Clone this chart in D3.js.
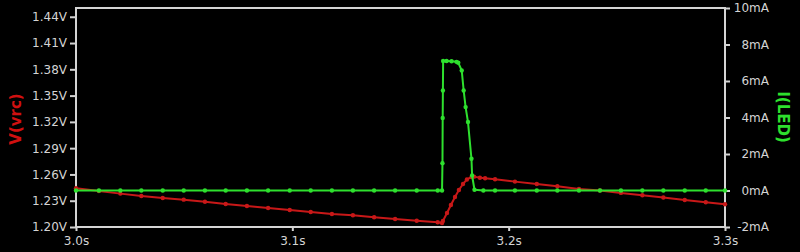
<!DOCTYPE html>
<html>
<head>
<meta charset="utf-8">
<script src="https://cdn.jsdelivr.net/npm/d3@7"></script>
<style>
  html, body { margin: 0; padding: 0; background: #000; }
  svg { display: block; }
</style>
</head>
<body>
<div id="chart"></div>
<script>
// V(vrc) trace, time in s, value in V
const timeV = [3.0000, 3.0106, 3.0205, 3.0302, 3.0401, 3.0498, 3.0596, 3.0692, 3.0790, 3.0888,
  3.0988, 3.1085, 3.1183, 3.1280, 3.1378, 3.1475, 3.1575, 3.1672, 3.1692,
  3.1696, 3.1715, 3.1733, 3.1752, 3.1770, 3.1789, 3.1807, 3.1829, 3.1840,
  3.1867, 3.1891, 3.1937, 3.2029, 3.2130, 3.2225, 3.2325, 3.2422, 3.2519, 3.2618,
  3.2715, 3.2814, 3.2911, 3.3000];
const vrc = [1.2442, 1.2411, 1.2381, 1.2354, 1.2331, 1.2312, 1.2289, 1.2263, 1.2240, 1.2217,
  1.2194, 1.2171, 1.2149, 1.2134, 1.2111, 1.2091, 1.2072, 1.2054, 1.2046,
  1.2069, 1.2160, 1.2251, 1.2343, 1.2423, 1.2491, 1.2543, 1.2571, 1.2575,
  1.2563, 1.2557, 1.2545, 1.2518, 1.2491, 1.2465, 1.2434, 1.2417, 1.2389, 1.2362,
  1.2336, 1.2309, 1.2282, 1.2259];

// I(LED) trace, time in s, value in mA
const timeI = [3.0000, 3.0106, 3.0205, 3.0302, 3.0401, 3.0498, 3.0596, 3.0692, 3.0790, 3.0888,
  3.0988, 3.1085, 3.1183, 3.1280, 3.1378, 3.1475, 3.1575, 3.1672, 3.1692,
  3.1694, 3.1695, 3.1696, 3.1697, 3.1713, 3.1736, 3.1759, 3.1767, 3.1783, 3.1792,
  3.1801, 3.1812, 3.1828, 3.1831, 3.1842,
  3.1883, 3.1937, 3.2029, 3.2130, 3.2225, 3.2325, 3.2422, 3.2519, 3.2618,
  3.2715, 3.2814, 3.2911, 3.3000];
const iLed = [0, 0, 0, 0, 0, 0, 0, 0, 0, 0,
  0, 0, 0, 0, 0, 0, 0, 0, 0,
  1.5, 3.97, 5.48, 7.10, 7.10, 7.08, 7.05, 7.00, 6.58, 5.48,
  4.57, 3.75, 1.74, 0.82, 0.04,
  0, 0, 0, 0, 0, 0, 0, 0, 0,
  0, 0, 0, 0];

const vTicks = [1.20, 1.23, 1.26, 1.29, 1.32, 1.35, 1.38, 1.41, 1.44];
const iTicks = [-2, 0, 2, 4, 6, 8, 10];
const tTicks = [3.0, 3.1, 3.2, 3.3];

const width = 800, height = 252;
const plotLeft = 76, plotRight = 725, plotTop = 8, plotBottom = 227;
const frameColor = "#d4d4d4";
const redColor = "#c81818";
const greenColor = "#2ee02e";

const svg = d3.select("#chart")
  .append("svg")
  .attr("width", width)
  .attr("height", height);

svg.append("rect")
  .attr("width", width)
  .attr("height", height)
  .attr("fill", "#000");

const x = d3.scaleLinear().domain([3.0, 3.3]).range([plotLeft, plotRight]);
const yV = d3.scaleLinear().domain([1.20, 1.45]).range([plotBottom, plotTop]);
const yI = d3.scaleLinear().domain([-2, 10]).range([plotBottom, plotTop]);

// axes
const leftAxis = svg.append("g")
  .attr("transform", "translate(" + plotLeft + ",0)")
  .call(d3.axisLeft(yV).tickValues(vTicks).tickFormat(d => d.toFixed(2) + "V")
    .tickSize(6).tickPadding(3).tickSizeOuter(0));

const rightAxis = svg.append("g")
  .attr("transform", "translate(" + plotRight + ",0)")
  .call(d3.axisRight(yI).tickValues(iTicks).tickFormat(d => d + "mA")
    .tickSize(5).tickPadding(3).tickSizeOuter(0));
rightAxis.selectAll("text")
  .attr("x", 44)
  .attr("text-anchor", "end");

const bottomAxis = svg.append("g")
  .attr("transform", "translate(0," + plotBottom + ")")
  .call(d3.axisBottom(x).tickValues(tTicks).tickFormat(d => d.toFixed(1) + "s")
    .tickSize(4).tickPadding(5).tickSizeOuter(0));

[leftAxis, rightAxis, bottomAxis].forEach(a => {
  a.select(".domain").remove();
  a.selectAll("line").attr("stroke", frameColor).attr("stroke-width", 2);
  a.selectAll("text")
    .attr("fill", frameColor)
    .style("font-family", "DejaVu Sans")
    .style("font-size", "12px");
});

// frame
svg.append("rect")
  .attr("x", plotLeft)
  .attr("y", plotTop)
  .attr("width", plotRight - plotLeft)
  .attr("height", plotBottom - plotTop)
  .attr("fill", "none")
  .attr("stroke", frameColor)
  .attr("stroke-width", 2);

// traces
const vData = timeV.map((t, i) => ({ t: t, v: vrc[i] }));
const iData = timeI.map((t, i) => ({ t: t, v: iLed[i] }));

function drawTrace(data, yScale, color) {
  svg.append("path")
    .datum(data)
    .attr("fill", "none")
    .attr("stroke", color)
    .attr("stroke-width", 2)
    .attr("stroke-linejoin", "round")
    .attr("d", d3.line().x(d => x(d.t)).y(d => yScale(d.v)));

  svg.selectAll(null)
    .data(data)
    .enter()
    .append("circle")
    .attr("cx", d => x(d.t))
    .attr("cy", d => yScale(d.v))
    .attr("r", 2.2)
    .attr("fill", color);
}

drawTrace(vData, yV, redColor);
drawTrace(iData, yI, greenColor);

// axis titles
svg.append("text")
  .attr("transform", "translate(21,119) rotate(-90)")
  .attr("text-anchor", "middle")
  .attr("fill", "#d01010")
  .style("font-family", "DejaVu Sans")
  .style("font-weight", "bold")
  .style("font-size", "15px")
  .text("V(vrc)");

svg.append("text")
  .attr("transform", "translate(778,117) rotate(90)")
  .attr("text-anchor", "middle")
  .attr("fill", greenColor)
  .style("font-family", "DejaVu Sans")
  .style("font-weight", "bold")
  .style("font-size", "15px")
  .text("I(LED)");
</script>
</body>
</html>
